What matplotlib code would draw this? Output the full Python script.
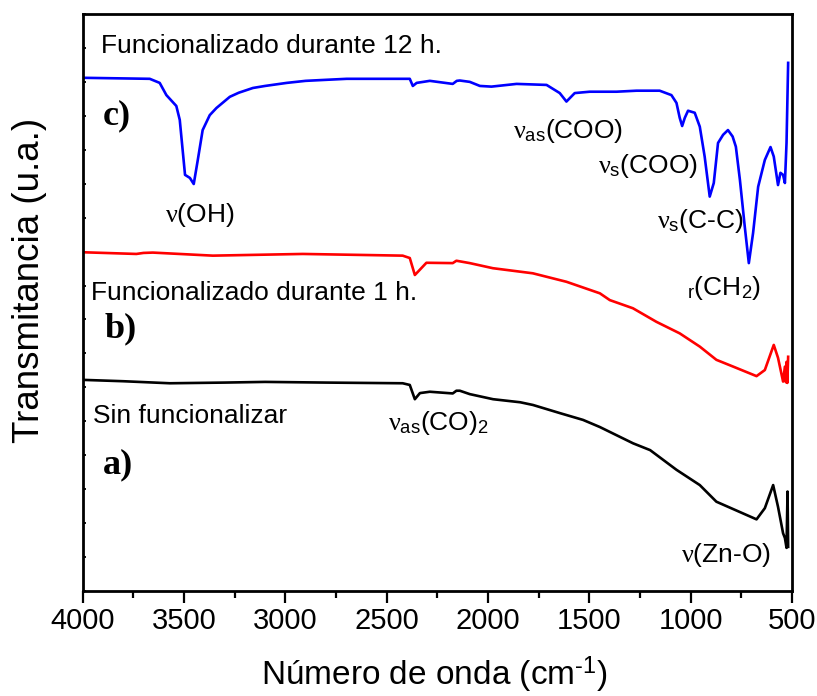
import matplotlib
matplotlib.use('Agg')
import matplotlib.pyplot as plt
from matplotlib.ticker import MultipleLocator, NullFormatter

plt.rcParams['font.family'] = ['Liberation Sans', 'DejaVu Sans']
plt.rcParams['mathtext.fontset'] = 'custom'
plt.rcParams['mathtext.rm'] = 'Liberation Sans'
plt.rcParams['mathtext.it'] = 'Liberation Serif'
plt.rcParams['mathtext.bf'] = 'Liberation Sans:bold'

# c) Funcionalizado durante 12 h.
wn_c = [4000, 3669, 3620, 3587, 3538, 3521, 3495, 3471, 3452, 3432, 3408, 3373, 3340,
        3274, 3230, 3160, 3100, 2993, 2900, 2800, 2697, 2386, 2371, 2352, 2287, 2174, 2154,
        2139, 2090, 2040, 1983, 1859, 1711, 1646, 1613, 1572, 1498, 1366, 1267, 1153, 1095,
        1070, 1054, 1042, 1029, 1013, 980, 955, 931, 906, 886, 865, 840, 816, 793, 777, 757,
        733, 713, 692, 667, 634, 606, 590, 569, 557, 544, 535, 527, 519]
t_c = [15.12, 15.09, 14.97, 14.61, 14.29, 13.88, 12.26, 12.17, 11.99, 12.70, 13.58, 14.02, 14.23,
       14.56, 14.68, 14.82, 14.88, 14.97, 15.03, 15.06, 15.09, 15.09, 14.88, 14.97, 15.03, 14.94, 15.03,
       15.04, 15.00, 14.88, 14.86, 14.94, 14.91, 14.67, 14.42, 14.67, 14.71, 14.71, 14.74, 14.74, 14.61,
       14.38, 13.94, 13.70, 13.94, 14.15, 14.09, 13.68, 12.80, 11.62, 12.02, 13.20, 13.44, 13.58, 13.39, 13.09, 12.11,
       10.73, 9.66, 10.55, 11.91, 12.70, 13.08, 12.80, 11.96, 12.32, 12.26, 12.02, 13.20, 15.56]

# b) Funcionalizado durante 1 h.
wn_b = [4000, 3735, 3700, 3654, 3358, 2914, 2421, 2386, 2361, 2345, 2304, 2174, 2156,
        2090, 1976, 1779, 1613, 1448, 1399, 1285, 1169, 1054, 955, 873, 790, 675,
        634, 590, 569, 544, 535, 530, 527, 523, 519]
t_b = [9.98, 9.93, 9.96, 9.97, 9.88, 9.93, 9.88, 9.81, 9.31, 9.41, 9.67, 9.66, 9.73,
       9.66, 9.51, 9.36, 9.11, 8.77, 8.57, 8.33, 7.93, 7.59, 7.20, 6.81, 6.61, 6.33,
       6.51, 7.25, 6.87, 6.17, 6.61, 6.15, 6.75, 6.13, 6.90]

# a) Sin funcionalizar
wn_a = [4000, 3800, 3570, 3300, 3100, 2800, 2421, 2386, 2361, 2336, 2287, 2174, 2156,
        2139, 2090, 1975, 1841, 1778, 1645, 1531, 1448, 1284, 1200, 1070, 955, 873, 675, 634, 593,
        569, 544, 535, 527, 522, 519]
t_a = [6.22, 6.18, 6.12, 6.14, 6.16, 6.14, 6.12, 6.07, 5.65, 5.83, 5.87, 5.82, 5.90,
       5.90, 5.80, 5.65, 5.56, 5.48, 5.24, 5.04, 4.83, 4.35, 4.15, 3.57, 3.12, 2.63, 2.11, 2.44, 3.12,
       2.48, 1.70, 1.56, 1.27, 2.93, 1.30]

fig = plt.figure(figsize=(8.17, 6.96), dpi=100)
ax = fig.add_axes([0.1012, 0.1509, 0.8682, 0.8290])

lw = 1.9
ax.plot(wn_a, t_a, color='black', lw=lw)
ax.plot(wn_b, t_b, color='red', lw=lw)
ax.plot(wn_c, t_c, color='blue', lw=lw)

ax.set_xlim(4000, 500)
ax.set_ylim(0, 17)

ax.xaxis.set_major_locator(MultipleLocator(500))
ax.xaxis.set_minor_locator(MultipleLocator(250))
ax.yaxis.set_major_locator(MultipleLocator(1))
ax.yaxis.set_major_formatter(NullFormatter())
ax.tick_params(axis='x', which='major', direction='out', length=8.5, width=1.6,
               labelsize=21, pad=3, top=False)
ax.tick_params(axis='x', which='minor', direction='out', length=5, width=1.6, top=False)
ax.tick_params(axis='y', which='major', direction='in', length=2.5, width=1.3,
               right=False, left=True)
for s in ax.spines.values():
    s.set_linewidth(2.0)

ax.set_xlabel('Número de onda (cm$^{\\rm \u20101}$)', fontsize=24)
ax.set_ylabel('Transmitancia (u.a.)', fontsize=26.5)
ax.xaxis.set_label_coords(0.495, -0.11)
ax.yaxis.set_label_coords(-0.05, 0.539)

# etiquetas de las muestras
fs = 19
ax.text(3910, 15.85, 'Funcionalizado durante 12 h.', fontsize=fs, va='baseline', ha='left')
ax.text(3959, 8.57, 'Funcionalizado durante 1 h.', fontsize=fs, va='baseline', ha='left')
ax.text(3949, 4.95, 'Sin funcionalizar', fontsize=fs, va='baseline', ha='left')

serif_bold = dict(family='Liberation Serif', fontweight='bold', fontsize=26, va='baseline', ha='left')
ax.text(3900, 13.76, 'c)', **serif_bold)
ax.text(3890, 7.48, 'b)', **serif_bold)
ax.text(3900, 3.48, 'a)', **serif_bold)

# asignaciones de bandas
ax.text(3594, 10.87, r'$\nu$(OH)', fontsize=fs, va='baseline', ha='left')
ax.text(1876, 13.35, r'$\nu_{\rm as}$(COO)', fontsize=fs, va='baseline', ha='left')
ax.text(1456, 12.32, r'$\nu_{\rm s}$(COO)', fontsize=fs, va='baseline', ha='left')
ax.text(1166, 10.70, r'$\nu_{\rm s}$(C-C)', fontsize=fs, va='baseline', ha='left')
ax.text(1018, 8.72, r'${}_{\rm r}$(CH$_{\rm 2}$)', fontsize=fs, va='baseline', ha='left')
ax.text(2493, 4.74, r'$\nu_{\rm as}$(CO)$_{\rm 2}$', fontsize=fs, va='baseline', ha='left')
ax.text(1046, 0.85, r'$\nu$(Zn-O)', fontsize=fs, va='baseline', ha='left')

plt.savefig('out.png', dpi=100)
